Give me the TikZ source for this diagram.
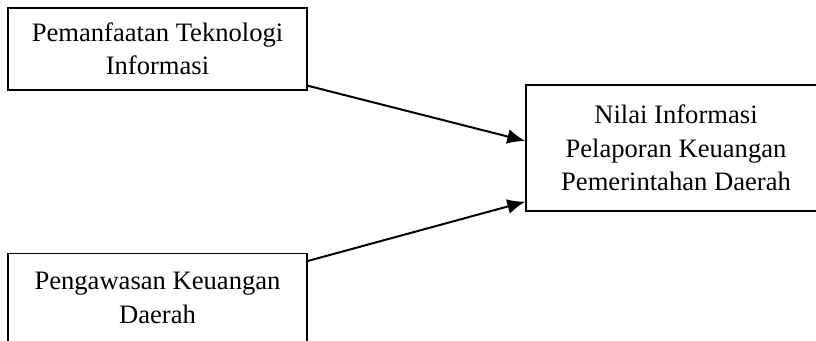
\documentclass[tikz,border=0pt]{standalone}
\usepackage{fontspec}
\setmainfont{Liberation Serif}
\usepackage{tikz}
\usetikzlibrary{arrows.meta}

\tikzset{
  teks/.style={align=center, inner sep=0pt, font=\fontsize{26.6}{33.5}\selectfont},
  kotak/.style={teks, draw, line width=1.4pt, minimum width=299pt},
  panah/.style={-{Latex[length=18pt,width=15pt]}, line width=2pt}
}

\begin{document}
\begin{tikzpicture}[x=1pt,y=-1pt]
\useasboundingbox (0,0) rectangle (816,340);

\node [kotak, minimum height=82pt] (tek) at (157.5,49) {Pemanfaatan Teknologi\\Informasi};
\node [kotak, minimum height=126pt, minimum width=300pt] (nilai) at (676,148)
  {Nilai Informasi\\Pelaporan Keuangan\\Pemerintahan Daerah};
% kotak bawah terpotong di tepi gambar
\node [kotak, minimum height=100pt, anchor=north] (awas) at (157.5,253) {};
\node [teks] (awasteks) at (157.5,298) {Pengawasan Keuangan\\Daerah};

\draw [panah] ([yshift=5pt]tek.south east) -- ([yshift=7pt]nilai.west);
\draw [panah] ([yshift=-8pt]awas.north east) -- ([yshift=10pt]nilai.south west);

\end{tikzpicture}
\end{document}
